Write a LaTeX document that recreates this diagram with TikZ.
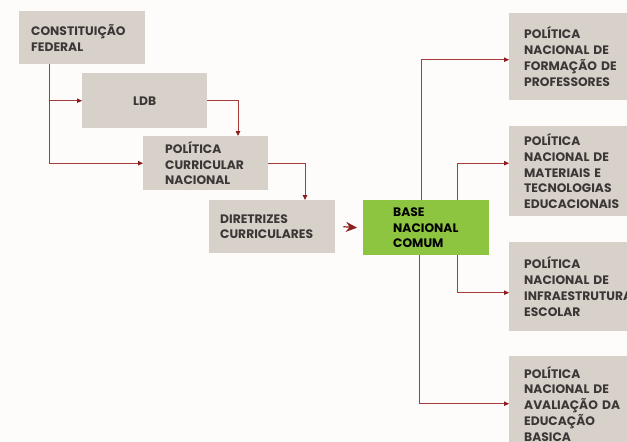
\documentclass[tikz,border=0pt]{standalone}
\usepackage{fontspec}
\setmainfont{Poppins}
\usetikzlibrary{arrows.meta,calc}
\definecolor{boxfill}{RGB}{216,209,202}
\definecolor{greenfill}{RGB}{141,197,64}
\definecolor{linecol}{RGB}{165,60,60}
\definecolor{tipcol}{RGB}{140,30,30}
\definecolor{txtcol}{RGB}{60,55,55}
\definecolor{bgcol}{RGB}{253,252,250}
\tikzset{
  box/.style={draw=none, fill=boxfill, anchor=north west, align=left,
    font=\fontsize{12.3}{15.8}\selectfont\bfseries, text=txtcol,
    inner ysep=0pt},
  conn/.style={draw=linecol, line width=0.9pt,
    -{Triangle[length=5pt,width=4.5pt,color=tipcol]}},
  bigarrow/.style={draw=tipcol, line width=1.2pt,
    -{Stealth[length=11pt,width=10pt,color=tipcol]}}
}
\begin{document}
\begin{tikzpicture}[x=1pt,y=-1pt]
\useasboundingbox (0,0) rectangle (627,442);
\clip (0,0) rectangle (627,442);
\fill[bgcol] (0,0) rectangle (627,442);

\node[box, minimum width=126pt, minimum height=53pt, text width=102pt, inner xsep=12pt] (cf) at (19,11) {CONSTITUIÇÃO\\FEDERAL};
\node[box, minimum width=125pt, minimum height=55pt, text width=101pt, inner xsep=12pt, align=center] (ldb) at (82,73) {LDB};
\node[box, minimum width=125pt, minimum height=54pt, text width=81pt, inner xsep=22pt] (pcn) at (143,136) {POLÍTICA\\CURRICULAR\\NACIONAL};
\node[box, minimum width=126pt, minimum height=53pt, text width=104pt, inner xsep=11pt] (dc) at (209,200) {DIRETRIZES\\CURRICULARES};
\node[box, fill=greenfill, text=black, minimum width=126pt, minimum height=55pt, text width=66pt, inner xsep=30pt] (bnc) at (363,200) {BASE\\NACIONAL\\COMUM};

\node[box, minimum width=140pt, minimum height=87pt, text width=110pt, inner xsep=15pt] (p1) at (509,13) {POLÍTICA\\NACIONAL DE\\FORMAÇÃO DE\\PROFESSORES};
\node[box, minimum width=140pt, minimum height=90pt, text width=110pt, inner xsep=15pt] (p2) at (509,126) {POLÍTICA\\NACIONAL DE\\MATERIAIS E\\TECNOLOGIAS\\EDUCACIONAIS};
\node[box, minimum width=140pt, minimum height=89pt, text width=110pt, inner xsep=15pt] (p3) at (509,242) {POLÍTICA\\NACIONAL DE\\INFRAESTRUTURA\\ESCOLAR};
\node[box, minimum width=140pt, minimum height=95pt, text width=110pt, inner xsep=15pt] (p4) at (509,356) {POLÍTICA\\NACIONAL DE\\AVALIAÇÃO DA\\EDUCAÇÃO\\BASICA};

\coordinate (cfs) at ([xshift=30pt]cf.south west);
\draw[conn] (cfs) |- (ldb.west);
\draw[conn] (cfs) |- (pcn.west);
\draw[conn] (ldb.east) -| ([xshift=95pt]pcn.north west);
\draw[conn] (pcn.east) -| ([xshift=96pt]dc.north west);
\draw[bigarrow] ([xshift=8pt]dc.east) -- ([xshift=-6pt]bnc.west);

\draw[conn] ([xshift=58pt]bnc.north west) |- ([yshift=-3pt]p1.west);
\draw[conn] ([xshift=94pt]bnc.north west) |- ([yshift=8pt]p2.west);
\draw[conn] ([xshift=94pt]bnc.south west) |- ([yshift=-6pt]p3.west);
\draw[conn] ([xshift=56pt]bnc.south west) |- (p4.west);
\end{tikzpicture}
\end{document}
